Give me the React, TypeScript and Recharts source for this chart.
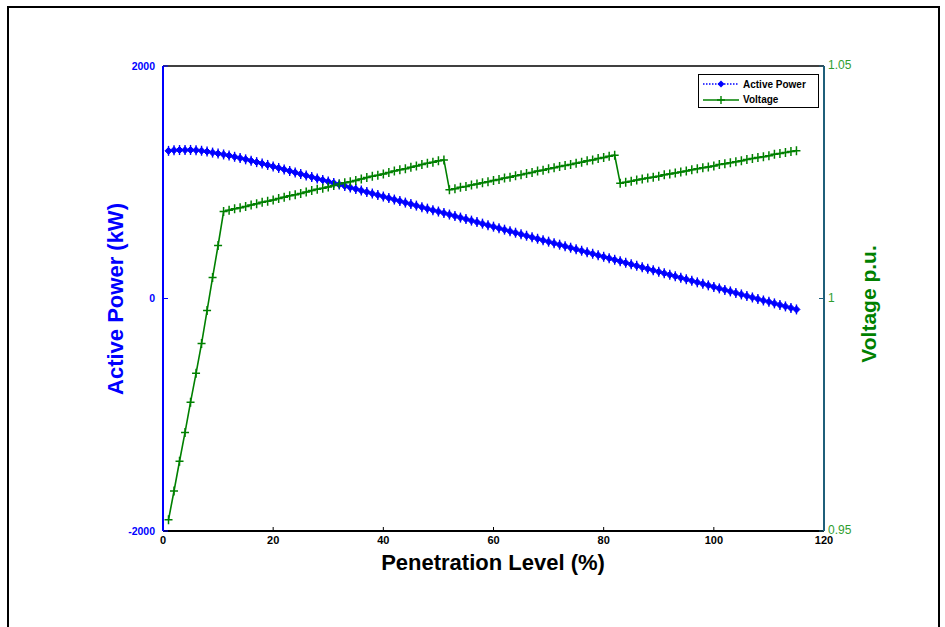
import {
  ComposedChart,
  Line,
  ReferenceLine,
  XAxis,
  YAxis,
} from "recharts";

// Penetration level (%), one sample per percent from 1 to 115
const levels: number[] = Array.from({ length: 115 }, (_, i) => i + 1);

// Active power (kW)
const activePower: number[] = [
  1270, 1276, 1277, 1277, 1278, 1276, 1271, 1264, 1255, 1247,
  1239, 1230, 1219, 1208, 1197, 1185, 1173, 1161, 1149, 1136,
  1123, 1110, 1097, 1084, 1071, 1058, 1045, 1032, 1019, 1006,
  994, 981, 968, 955, 942, 929, 916, 903, 890, 877,
  864, 851, 838, 825, 812, 799, 786, 773, 760, 748,
  735, 722, 709, 696, 683, 670, 657, 644, 631, 618,
  605, 592, 579, 566, 553, 540, 527, 514, 501, 489,
  476, 463, 450, 437, 424, 411, 398, 385, 372, 359,
  346, 333, 320, 307, 294, 281, 268, 255, 242, 230,
  217, 204, 191, 178, 165, 152, 139, 126, 113, 100,
  87, 74, 61, 48, 35, 22, 9, -4, -17, -29,
  -42, -55, -68, -81, -94,
];

// Voltage (p.u.)
const voltage: number[] = [
  0.9524, 0.9586, 0.965, 0.9712, 0.9777, 0.9839, 0.9903, 0.9974, 1.0045, 1.0114,
  1.0187, 1.019, 1.0193, 1.0195, 1.0198, 1.0201, 1.0204, 1.0207, 1.0209, 1.0212,
  1.0215, 1.0218, 1.0221, 1.0223, 1.0226, 1.0229, 1.0232, 1.0235, 1.0237, 1.024,
  1.0243, 1.0246, 1.0249, 1.0251, 1.0254, 1.0257, 1.026, 1.0263, 1.0265, 1.0268,
  1.0271, 1.0274, 1.0277, 1.0279, 1.0282, 1.0285, 1.0288, 1.0291, 1.0293, 1.0296,
  1.0298, 1.0234, 1.0236, 1.0239, 1.0241, 1.0244, 1.0246, 1.0249, 1.0251, 1.0254,
  1.0256, 1.0259, 1.0261, 1.0264, 1.0266, 1.0269, 1.0271, 1.0274, 1.0276, 1.0279,
  1.0281, 1.0284, 1.0286, 1.0288, 1.0291, 1.0293, 1.0296, 1.0298, 1.0301, 1.0303,
  1.0306, 1.0308, 1.0248, 1.025, 1.0252, 1.0255, 1.0257, 1.0259, 1.0261, 1.0263,
  1.0266, 1.0268, 1.027, 1.0272, 1.0274, 1.0277, 1.0279, 1.0281, 1.0283, 1.0285,
  1.0288, 1.029, 1.0292, 1.0294, 1.0296, 1.0299, 1.0301, 1.0303, 1.0305, 1.0307,
  1.031, 1.0312, 1.0314, 1.0316, 1.0318,
];

const xTicks = [0, 20, 40, 60, 80, 100, 120];
const powerTicks = [-2000, 0, 2000];
const voltageTicks = [0.95, 1, 1.05];

const FONT = "Arial, 'Liberation Sans', Helvetica, sans-serif";
const BLUE = "#0000ff";
const GREEN = "#008000";
const GREEN_TICK = "#2f9e2f";
const RIGHT_AXIS = "#1f5f7a";

const rows = levels.map((level, i) => ({
  level,
  power: activePower[i],
  voltage: voltage[i],
}));

function DiamondDot(props: any) {
  const { cx, cy, index } = props;
  if (cx == null || cy == null) return <g key={`d-${index}`} />;
  return (
    <g key={`d-${index}`}>
      <path
        d={`M${cx},${cy - 3.5} L${cx + 3.5},${cy} L${cx},${cy + 3.5} L${cx - 3.5},${cy} Z`}
        fill={BLUE}
        stroke={BLUE}
        strokeWidth={1}
      />
      <line x1={cx} y1={cy - 5} x2={cx} y2={cy + 5} stroke={BLUE} strokeWidth={1.4} />
    </g>
  );
}

function PlusDot(props: any) {
  const { cx, cy, index } = props;
  if (cx == null || cy == null) return <g key={`p-${index}`} />;
  return (
    <path
      key={`p-${index}`}
      d={`M${cx - 4},${cy} H${cx + 4} M${cx},${cy - 4.5} V${cy + 4.5}`}
      stroke={GREEN}
      strokeWidth={1.5}
      fill="none"
    />
  );
}

function LegendBox() {
  return (
    <div
      style={{
        position: "absolute",
        left: 698,
        top: 74,
        width: 121,
        height: 34,
        border: "1px solid #000",
        background: "#fff",
        fontFamily: FONT,
        fontWeight: "bold",
        fontSize: 10,
        color: "#000",
        boxSizing: "border-box",
      }}
    >
      <div style={{ display: "flex", alignItems: "center", height: 16, marginTop: 1 }}>
        <svg width={42} height={12} style={{ display: "block" }}>
          <line x1={4} y1={6} x2={40} y2={6} stroke={BLUE} strokeWidth={1.5} strokeDasharray="1.5 1.5" />
          <path d="M22,2.5 L25.5,6 L22,9.5 L18.5,6 Z" fill={BLUE} />
        </svg>
        <span style={{ marginLeft: 2 }}>Active Power</span>
      </div>
      <div style={{ display: "flex", alignItems: "center", height: 15 }}>
        <svg width={42} height={12} style={{ display: "block" }}>
          <line x1={4} y1={6} x2={40} y2={6} stroke={GREEN} strokeWidth={1.5} />
          <path d="M18,6 H26 M22,2 V10" stroke={GREEN} strokeWidth={1.4} />
        </svg>
        <span style={{ marginLeft: 2 }}>Voltage</span>
      </div>
    </div>
  );
}

export default function App() {
  return (
    <div
      style={{
        position: "absolute",
        left: 0,
        top: 0,
        width: 945,
        height: 627,
        background: "#fff",
        overflow: "hidden",
      }}
    >
      {/* outer figure frame, open at the bottom */}
      <div
        style={{
          position: "absolute",
          left: 7,
          top: 6,
          width: 929,
          height: 640,
          borderTop: "2px solid #000",
          borderLeft: "2px solid #000",
          borderRight: "2px solid #000",
        }}
      />
      <div style={{ position: "absolute", left: 0, top: 0 }}>
        <ComposedChart
          width={945}
          height={627}
          data={rows}
          margin={{ top: 66, right: 61, bottom: 66, left: 103 }}
        >
          <XAxis
            dataKey="level"
            type="number"
            domain={[0, 120]}
            ticks={xTicks}
            interval={0}
            axisLine={{ stroke: "#000", strokeWidth: 2 }}
            tickLine={{ stroke: "#000" }}
            tickSize={-4}
            tickMargin={9}
            height={30}
            tick={{ fill: "#000", fontSize: 11, fontWeight: "bold", fontFamily: FONT }}
          />
          <YAxis
            yAxisId="left"
            orientation="left"
            type="number"
            domain={[-2000, 2000]}
            ticks={powerTicks}
            interval={0}
            width={60}
            axisLine={{ stroke: BLUE, strokeWidth: 2 }}
            tickLine={{ stroke: BLUE }}
            tickSize={-5}
            tickMargin={13}
            tick={{ fill: BLUE, fontSize: 10.5, fontWeight: "bold", fontFamily: FONT }}
          />
          <YAxis
            yAxisId="right"
            orientation="right"
            type="number"
            domain={[0.95, 1.05]}
            ticks={voltageTicks}
            interval={0}
            width={60}
            axisLine={{ stroke: RIGHT_AXIS, strokeWidth: 2 }}
            tickLine={{ stroke: RIGHT_AXIS }}
            tickSize={-5}
            tickMargin={9}
            tickFormatter={(v: number) => String(v)}
            tick={{ fill: GREEN_TICK, fontSize: 12, fontFamily: FONT, dy: -1 }}
          />
          <ReferenceLine yAxisId="left" y={2000} stroke="#000" strokeWidth={1.5} />
          <Line
            yAxisId="left"
            dataKey="power"
            type="linear"
            stroke={BLUE}
            strokeWidth={1.5}
            strokeDasharray="2 1.5"
            dot={DiamondDot}
            activeDot={false}
            isAnimationActive={false}
          />
          <Line
            yAxisId="right"
            dataKey="voltage"
            type="linear"
            stroke={GREEN}
            strokeWidth={1.6}
            dot={PlusDot}
            activeDot={false}
            isAnimationActive={false}
          />
        </ComposedChart>
      </div>
      <LegendBox />
      {/* axis titles */}
      <div
        style={{
          position: "absolute",
          left: 116,
          top: 299,
          transform: "translate(-50%, -50%) rotate(-90deg)",
          whiteSpace: "nowrap",
          fontFamily: FONT,
          fontWeight: "bold",
          fontSize: 22,
          color: BLUE,
        }}
      >
        Active Power (kW)
      </div>
      <div
        style={{
          position: "absolute",
          left: 869,
          top: 304,
          transform: "translate(-50%, -50%) rotate(-90deg)",
          whiteSpace: "nowrap",
          fontFamily: FONT,
          fontWeight: "bold",
          fontSize: 21,
          color: GREEN,
        }}
      >
        Voltage p.u.
      </div>
      <div
        style={{
          position: "absolute",
          left: 493,
          top: 563,
          transform: "translate(-50%, -50%)",
          whiteSpace: "nowrap",
          fontFamily: FONT,
          fontWeight: "bold",
          fontSize: 22,
          color: "#000",
        }}
      >
        Penetration Level (%)
      </div>
    </div>
  );
}
